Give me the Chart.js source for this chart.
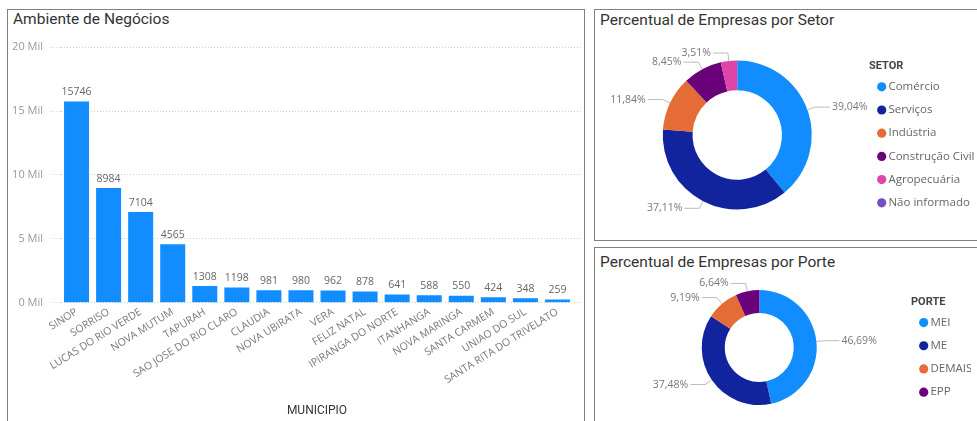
<!DOCTYPE html>
<html>
<head>
<meta charset="utf-8">
<script src="https://cdn.jsdelivr.net/npm/chart.js@4.4.0/dist/chart.umd.min.js"></script>
<style>
  body { margin:0; width:977px; height:421px; overflow:hidden; background:#fff; position:relative; }
  .panel { position:absolute; box-sizing:border-box; border:1px solid #808080; background:#fff; }
  .title { position:absolute; font-family:Roboto, sans-serif; font-size:15.5px; line-height:18px; color:#333; white-space:nowrap; }
  canvas { position:absolute; }
</style>
</head>
<body>
<div class="panel" style="left:7px;top:9px;width:578px;height:440px"></div>
<div class="panel" style="left:594px;top:9px;width:400px;height:232px"></div>
<div class="panel" style="left:594px;top:247px;width:400px;height:200px"></div>
<div class="title" style="left:13px;top:10px">Ambiente de Negócios</div>
<div class="title" style="left:600px;top:11px">Percentual de Empresas por Setor</div>
<div class="title" style="left:600px;top:253px">Percentual de Empresas por Porte</div>
<canvas id="bar" width="576" height="388" style="left:8px;top:33px"></canvas>
<canvas id="setor" width="389" height="208" style="left:595px;top:31px"></canvas>
<canvas id="porte" width="376" height="151" style="left:595px;top:272px"></canvas>
<script>
const municipios = ['SINOP', 'SORRISO', 'LUCAS DO RIO VERDE', 'NOVA MUTUM', 'TAPURAH', 'SAO JOSE DO RIO CLARO',
  'CLAUDIA', 'NOVA UBIRATA', 'VERA', 'FELIZ NATAL', 'IPIRANGA DO NORTE', 'ITANHANGA', 'NOVA MARINGA',
  'SANTA CARMEM', 'UNIAO DO SUL', 'SANTA RITA DO TRIVELATO'];
const empresas = [15746, 8984, 7104, 4565, 1308, 1198, 981, 980, 962, 878, 641, 588, 550, 424, 348, 259];
const yMax = 20000;
const yStep = 5000;

const setores = ['Comércio', 'Serviços', 'Indústria', 'Construção Civil', 'Agropecuária', 'Não informado'];
const setorPct = [39.04, 37.11, 11.84, 8.45, 3.51, 0.05];
const setorCores = ['#118DFF', '#12239E', '#E66C37', '#6B007B', '#E044A7', '#744EC2'];

const portes = ['MEI', 'ME', 'DEMAIS', 'EPP'];
const portePct = [46.69, 37.48, 9.19, 6.64];
const porteCores = ['#118DFF', '#12239E', '#E66C37', '#6B007B'];

Chart.defaults.font.family = '"Open Sans", sans-serif';
Chart.defaults.animation = false;

// valores em cima das barras
const barValues = {
  id: 'barValues',
  afterDatasetsDraw(chart) {
    const ctx = chart.ctx;
    const vals = chart.data.datasets[0].data;
    ctx.save();
    ctx.font = '10.5px "Open Sans"';
    ctx.fillStyle = '#666';
    ctx.textAlign = 'center';
    ctx.textBaseline = 'bottom';
    chart.getDatasetMeta(0).data.forEach((bar, i) => {
      ctx.fillText(String(vals[i]), bar.x, bar.y - 4);
    });
    ctx.restore();
  }
};

// rotulos de fatia com linha guia
const sliceLabels = {
  id: 'sliceLabels',
  afterDatasetsDraw(chart) {
    const ctx = chart.ctx;
    const vals = chart.data.datasets[0].data;
    ctx.save();
    ctx.font = '10.5px "Open Sans"';
    ctx.textBaseline = 'middle';
    chart.getDatasetMeta(0).data.forEach((arc, i) => {
      if (vals[i] < 1) return;
      const mid = (arc.startAngle + arc.endAngle) / 2;
      const c = Math.cos(mid), s = Math.sin(mid);
      const r = arc.outerRadius;
      const x0 = arc.x + c * r, y0 = arc.y + s * r;
      const x1 = arc.x + c * (r + 8), y1 = arc.y + s * (r + 8);
      const right = c >= 0;
      const x2 = x1 + (right ? 15 : -15);
      ctx.strokeStyle = '#bbb';
      ctx.lineWidth = 1;
      ctx.beginPath();
      ctx.moveTo(x0, y0);
      ctx.lineTo(x1, y1);
      ctx.lineTo(x2, y1);
      ctx.stroke();
      ctx.fillStyle = '#777';
      ctx.textAlign = right ? 'left' : 'right';
      ctx.fillText(vals[i].toFixed(2).replace('.', ',') + '%', x2 + (right ? 2 : -2), y1);
    });
    ctx.restore();
  }
};

new Chart(document.getElementById('bar'), {
  type: 'bar',
  data: {
    labels: municipios,
    datasets: [{ data: empresas, backgroundColor: '#118DFF', categoryPercentage: 0.78, barPercentage: 1 }]
  },
  options: {
    responsive: false,
    events: [],
    layout: { padding: { left: 5, right: 1.5, top: 0, bottom: 0 } },
    plugins: { legend: { display: false }, tooltip: { enabled: false } },
    scales: {
      x: {
        grid: { display: false, drawTicks: false },
        border: { display: false },
        ticks: { color: '#777', font: { size: 10.5 }, minRotation: 32, maxRotation: 32, autoSkip: false, padding: 3 },
        title: { display: true, text: 'MUNICIPIO', color: '#333', font: { family: 'Roboto', size: 12 }, padding: { top: 0, bottom: 3 } },
        afterFit(scale) { scale.height = 118.3; }
      },
      y: {
        min: 0, max: yMax,
        ticks: { stepSize: yStep, color: '#999', font: { size: 11 }, padding: 7.5, callback: v => (v / 1000) + ' Mil' },
        grid: { color: '#ccc', tickColor: '#ccc', tickLength: 10, tickBorderDash: [1, 2] },
        border: { display: false, dash: [1, 2] },
        afterFit(scale) { scale.width = 47.5; }
      },
      y2: {
        position: 'right',
        min: 0, max: yMax,
        ticks: { stepSize: yStep, display: false },
        grid: { drawOnChartArea: false, tickColor: '#ccc', tickLength: 9, tickBorderDash: [1, 2] },
        border: { display: false },
        afterFit(scale) { scale.width = 9; }
      }
    }
  },
  plugins: [barValues]
});

function donut(id, labels, values, colors, titulo, radius, legendWidth, padLeft, titleTop, titleBottom) {
  return new Chart(document.getElementById(id), {
    type: 'doughnut',
    data: {
      labels: labels,
      datasets: [{ data: values, backgroundColor: colors, borderWidth: 0, radius: radius, cutout: '60%' }]
    },
    options: {
      responsive: false,
      events: [],
      layout: { padding: { left: padLeft, right: 0, top: 0, bottom: 0 } },
      plugins: {
        tooltip: { enabled: false },
        legend: {
          position: 'right',
          align: 'start',
          maxWidth: legendWidth,
          title: {
            display: true, text: titulo, position: 'start', color: '#444',
            font: { family: 'Roboto', size: 11, weight: 'bold' },
            padding: { top: titleTop, bottom: titleBottom }
          },
          labels: {
            usePointStyle: true, pointStyle: 'circle', boxWidth: 2, boxHeight: 6.5,
            padding: 11.7, color: '#666', font: { size: 11.5 }
          }
        }
      }
    },
    plugins: [sliceLabels]
  });
}

donut('setor', setores, setorPct, setorCores, 'SETOR', 74.5, 115, 10.5, 30, -4.85);
donut('porte', portes, portePct, porteCores, 'PORTE', 57.5, 60, 12.5, 25, -5.1);
</script>
</body>
</html>
